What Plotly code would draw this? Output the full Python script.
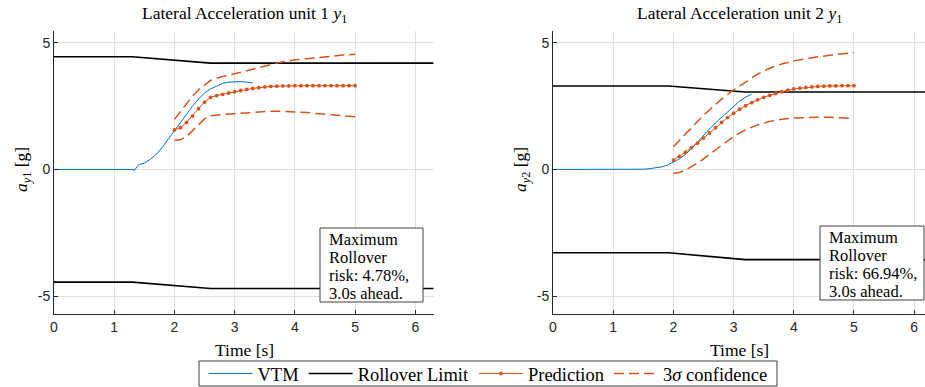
import plotly.graph_objects as go

# ---------------- data ----------------
# Left: unit 1
t_lim1 = [0, 1.3, 2.6, 6.3]
lim1_up = [4.45, 4.45, 4.2, 4.2]
lim1_lo = [-4.45, -4.45, -4.7, -4.7]

t_vtm1 = [0, 1.28, 1.34, 1.38, 1.42, 1.5, 1.6, 1.7, 1.8, 1.9, 2.0, 2.1, 2.2, 2.3, 2.4,
          2.5, 2.6, 2.65, 2.7, 2.8, 2.9, 3.0, 3.1, 3.2, 3.3]
vtm1 = [0, 0, -0.03, 0.12, 0.2, 0.25, 0.4, 0.6, 0.88, 1.2, 1.55, 1.88, 2.2, 2.5, 2.78,
        3.02, 3.18, 3.24, 3.3, 3.4, 3.45, 3.47, 3.47, 3.45, 3.42]

t_pred = [2.0, 2.1, 2.2, 2.3, 2.4, 2.5, 2.6, 2.7, 2.8, 2.9, 3.0, 3.1, 3.2, 3.3, 3.4, 3.5,
          3.6, 3.7, 3.8, 3.9, 4.0, 4.1, 4.2, 4.3, 4.4, 4.5, 4.6, 4.7, 4.8, 4.9, 5.0]
pred1 = [1.56, 1.65, 1.86, 2.11, 2.4, 2.66, 2.85, 2.92, 2.97, 3.02, 3.07, 3.12, 3.16, 3.2,
         3.23, 3.26, 3.28, 3.29, 3.3, 3.3, 3.31, 3.31, 3.31, 3.31, 3.31, 3.31, 3.31, 3.31,
         3.31, 3.31, 3.31]

t_conf = [2.0, 2.1, 2.2, 2.3, 2.4, 2.5, 2.6, 2.7, 2.8, 3.0, 3.2, 3.4, 3.6, 3.8, 4.0, 4.2,
          4.4, 4.6, 4.8, 5.0]
conf1_up = [1.98, 2.3, 2.6, 2.9, 3.15, 3.35, 3.52, 3.6, 3.67, 3.78, 3.9, 4.03, 4.17, 4.26,
            4.33, 4.38, 4.43, 4.48, 4.52, 4.55]
conf1_lo = [1.15, 1.17, 1.3, 1.52, 1.78, 2.0, 2.12, 2.15, 2.17, 2.2, 2.24, 2.28, 2.3, 2.3,
            2.28, 2.25, 2.2, 2.16, 2.12, 2.08]

# Right: unit 2
t_lim2 = [0, 1.92, 3.19, 6.3]
lim2_up = [3.3, 3.3, 3.06, 3.06]
lim2_lo = [-3.29, -3.29, -3.56, -3.56]

t_vtm2 = [0, 1.4, 1.5, 1.6, 1.7, 1.8, 1.9, 2.0, 2.1, 2.2, 2.3, 2.4, 2.5, 2.6, 2.7, 2.8,
          2.9, 3.0, 3.1, 3.2, 3.3]
vtm2 = [0, 0, 0.01, 0.03, 0.06, 0.1, 0.17, 0.28, 0.42, 0.6, 0.82, 1.08, 1.35, 1.6, 1.84,
        2.05, 2.26, 2.48, 2.7, 2.86, 2.97]

pred2 = [0.37, 0.52, 0.68, 0.86, 1.04, 1.24, 1.44, 1.65, 1.86, 2.05, 2.22, 2.38, 2.52,
         2.64, 2.75, 2.85, 2.93, 3.0, 3.07, 3.13, 3.18, 3.21, 3.24, 3.26, 3.28, 3.29, 3.3,
         3.3, 3.31, 3.31, 3.31]

conf2_up = [0.9, 1.15, 1.4, 1.66, 1.92, 2.14, 2.35, 2.57, 2.78, 3.14, 3.47, 3.77, 4.0, 4.17,
            4.29, 4.38, 4.45, 4.51, 4.57, 4.62]
conf2_lo = [-0.15, -0.12, -0.02, 0.11, 0.25, 0.42, 0.6, 0.78, 0.95, 1.3, 1.57, 1.76, 1.9,
            1.98, 2.03, 2.05, 2.06, 2.06, 2.04, 2.01]

titles = ["Lateral Acceleration unit 1 <i>y</i><sub>1</sub>",
          "Lateral Acceleration unit 2 <i>y</i><sub>1</sub>"]
ylabels = ["<i>a</i><sub><i>y</i>1</sub> [g]", "<i>a</i><sub><i>y</i>2</sub> [g]"]
risk_lines = [["Maximum", "Rollover", "risk: 4.78%,", "3.0s ahead."],
              ["Maximum", "Rollover", "risk: 66.94%,", "3.0s ahead."]]
x_ticks = [0, 1, 2, 3, 4, 5, 6]
y_ticks = [-5, 0, 5]
y_ticktext = ["-5", "0", "5"]

# ---------------- style ----------------
BLUE = "#0072BD"
ORANGE = "#D95319"
SERIF = "Liberation Serif"
SANS = "Liberation Sans"
W = 925
H = 396          # figure a little taller than the 387 px window (overflow hidden)

def py(p):        # pixel row (from top) -> paper fraction
    return (H - p) / H

fig = go.Figure()

panels = [
    dict(xa="x", ya="y", t_lim=t_lim1, up=lim1_up, lo=lim1_lo, t_vtm=t_vtm1, vtm=vtm1,
         pred=pred1, cu=conf1_up, cl=conf1_lo, leg=True),
    dict(xa="x2", ya="y2", t_lim=t_lim2, up=lim2_up, lo=lim2_lo, t_vtm=t_vtm2, vtm=vtm2,
         pred=pred2, cu=conf2_up, cl=conf2_lo, leg=False),
]

for p in panels:
    fig.add_trace(go.Scatter(x=p["t_vtm"], y=p["vtm"], mode="lines", name="VTM",
                             line=dict(color=BLUE, width=1), xaxis=p["xa"], yaxis=p["ya"],
                             showlegend=p["leg"], legendrank=1))
    fig.add_trace(go.Scatter(x=p["t_lim"], y=p["up"], mode="lines", name="Rollover Limit",
                             line=dict(color="black", width=1.6), xaxis=p["xa"], yaxis=p["ya"],
                             showlegend=p["leg"], legendrank=2))
    fig.add_trace(go.Scatter(x=p["t_lim"], y=p["lo"], mode="lines", name="Rollover Limit",
                             line=dict(color="black", width=1.6), xaxis=p["xa"], yaxis=p["ya"],
                             showlegend=False))
    fig.add_trace(go.Scatter(x=t_pred, y=p["pred"], mode="lines+markers", name="Prediction",
                             line=dict(color=ORANGE, width=1), marker=dict(size=3.8, color=ORANGE),
                             xaxis=p["xa"], yaxis=p["ya"], showlegend=p["leg"], legendrank=3))
    fig.add_trace(go.Scatter(x=t_conf, y=p["cu"], mode="lines", name="3<i>σ</i> confidence",
                             line=dict(color=ORANGE, width=1.5, dash="10px,5px"),
                             xaxis=p["xa"], yaxis=p["ya"], showlegend=p["leg"], legendrank=4))
    fig.add_trace(go.Scatter(x=t_conf, y=p["cl"], mode="lines", name="3σ confidence",
                             line=dict(color=ORANGE, width=1.5, dash="10px,5px"),
                             xaxis=p["xa"], yaxis=p["ya"], showlegend=False))

axis_common = dict(showline=True, linecolor="#262626", linewidth=1, ticks="inside",
                   ticklen=4, tickcolor="#262626", showgrid=True, gridcolor="#e0e0e0",
                   gridwidth=1, zeroline=False, automargin=False,
                   tickfont=dict(family=SANS, size=14, color="#262626"), mirror=False)

x1d = [54 / W, 434 / W]
x2d = [553 / W, 1.0]
yd = [py(314), py(31)]

fig.update_layout(
    width=W, height=H, margin=dict(l=0, r=0, t=0, b=0),
    plot_bgcolor="white", paper_bgcolor="white",
    xaxis=dict(domain=x1d, range=[0, 6.31], tickvals=x_ticks, anchor="y", **axis_common),
    yaxis=dict(domain=yd, range=[-5.71, 5.47], tickvals=y_ticks, ticktext=y_ticktext,
               anchor="x", **axis_common),
    xaxis2=dict(domain=x2d, range=[0, 6.18], tickvals=x_ticks, anchor="y2", **axis_common),
    yaxis2=dict(domain=yd, range=[-5.71, 5.47], tickvals=y_ticks, ticktext=y_ticktext,
                anchor="x2", **axis_common),
    showlegend=True,
    legend=dict(orientation="h", x=488 / W, xanchor="center", y=py(374), yanchor="middle",
                font=dict(family=SERIF, size=18.5, color="black"),
                bgcolor="rgba(0,0,0,0)", borderwidth=0, tracegroupgap=0, itemwidth=44),
)

annotations = []
shapes = []
centers = [244 / W, 739 / W]
for i in range(2):
    annotations.append(dict(text=titles[i], x=centers[i], y=py(15), xref="paper",
                            yref="paper", xanchor="center", yanchor="middle", showarrow=False,
                            font=dict(family=SERIF, size=17.5, color="black")))
    annotations.append(dict(text="Time [s]", x=centers[i], y=py(350), xref="paper",
                            yref="paper", xanchor="center", yanchor="middle", showarrow=False,
                            font=dict(family=SERIF, size=17.5, color="black")))
ylab_x = [22 / W, 521 / W]
for i in range(2):
    annotations.append(dict(text=ylabels[i], x=ylab_x[i], y=py(170), xref="paper",
                            yref="paper", xanchor="center", yanchor="middle", showarrow=False,
                            textangle=-90, font=dict(family=SERIF, size=17.5, color="black")))

# legend frame
shapes.append(dict(type="rect", xref="paper", yref="paper", x0=199 / W, x1=777 / W,
                   y0=py(386), y1=py(361), fillcolor="rgba(0,0,0,0)",
                   line=dict(color="#404040", width=1), layer="above"))

# risk boxes: rectangle + one annotation per line
box_px = [(320, 228, 423, 302), (820, 226, 924, 300)]
line_y0 = [239.5, 237]
for i in range(2):
    x0, y0, x1, y1 = box_px[i]
    shapes.append(dict(type="rect", xref="paper", yref="paper", x0=x0 / W, x1=x1 / W,
                       y0=py(y1), y1=py(y0), fillcolor="white",
                       line=dict(color="#404040", width=1), layer="above"))
    for k, txt in enumerate(risk_lines[i]):
        yy = line_y0[i] + 18 * k
        annotations.append(dict(text=txt, x=(x0 + 7) / W, y=py(yy), xref="paper",
                                yref="paper", xanchor="left", yanchor="middle",
                                showarrow=False, align="left",
                                font=dict(family=SERIF, size=16.5, color="black")))
fig.update_layout(annotations=annotations, shapes=shapes)

fig.write_html("out.html", config={"displayModeBar": False},
               post_script="document.body.style.margin='0';document.body.style.padding='0';"
                           "document.body.style.overflow='hidden';"
                           "document.documentElement.style.overflow='hidden';")
